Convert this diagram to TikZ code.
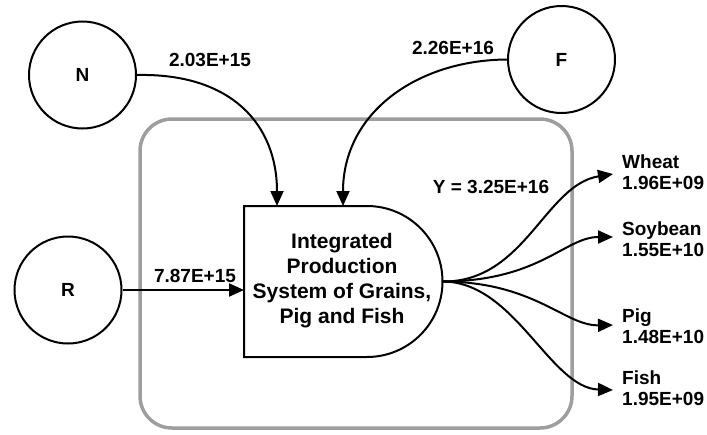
\documentclass[tikz,border=0pt]{standalone}
\usepackage{fontspec}
\setmainfont{Liberation Sans}
\usetikzlibrary{arrows.meta}

\tikzset{
  flow/.style={line width=2pt, -{Triangle[length=15pt,width=13pt]}},
  source/.style={circle, draw, line width=2pt, minimum size=107pt, inner sep=0pt,
    font=\fontsize{19}{21}\selectfont\bfseries},
  lbl/.style={font=\fontsize{19}{21}\selectfont\bfseries, inner sep=0pt},
  outlbl/.style={lbl, anchor=west, align=left},
  boundary/.style={draw=black!38, line width=3.5pt, rounded corners=32pt},
  procshape/.style={draw, line width=2pt, fill=white}
}

\begin{document}
\begin{tikzpicture}[x=1pt, y=-1pt]
  \useasboundingbox (0,0) rectangle (707,434);

  % system boundary
  \draw[boundary] (140,119) rectangle (572,428);

  % process symbol: flat left side, round right side
  \draw[procshape] (244,206) -- (367,206)
    arc[start angle=-90, end angle=90, radius=75.5] -- (244,357) -- cycle;
  \node[align=center, inner sep=0pt, font=\fontsize{21}{25}\selectfont\bfseries]
    (proc) at (342,281) {Integrated\\Production\\System of Grains,\\Pig and Fish};

  % attachment points on the process symbol
  \coordinate (inN) at (277,206);
  \coordinate (inF) at (343,206);
  \coordinate (inR) at (244,290);
  \coordinate (out) at (443,281.5);

  % sources
  \node[source] (N) at (82.5,75) {N};
  \node[source] (F) at (561.5,59.5) {F};
  \node[source] (R) at (68,290) {R};

  % inputs
  \draw[flow] (N.east) .. controls (232,73) and (277,125) .. (inN);
  \draw[flow] (F.west) .. controls (418,60) and (343,112) .. (inF);
  \draw[flow] (R.east) -- (inR);

  \node[lbl] (lN) at (210,60) {2.03E+15};
  \node[lbl] (lF) at (453,48) {2.26E+16};
  \node[lbl] (lR) at (195,276) {7.87E+15};
  \node[lbl] (lY) at (491,187) {Y = 3.25E+16};

  % outputs
  \coordinate (tW) at (613,174);
  \coordinate (tS) at (613,237);
  \coordinate (tP) at (613,325);
  \coordinate (tF) at (613,390);
  \draw[flow] (out) .. controls (525,282) and (545,185) .. (tW);
  \draw[flow] (out) .. controls (540,281) and (565,237) .. (tS);
  \draw[flow] (out) .. controls (535,282) and (565,326) .. (tP);
  \draw[flow] (out) .. controls (515,282) and (550,388) .. (tF);

  \node[outlbl] (oW) at (622,172) {Wheat\\1.96E+09};
  \node[outlbl] (oS) at (622,239.5) {Soybean\\1.55E+10};
  \node[outlbl] (oP) at (622,326.5) {Pig\\1.48E+10};
  \node[outlbl] (oF) at (622,388.5) {Fish\\1.95E+09};
\end{tikzpicture}
\end{document}
